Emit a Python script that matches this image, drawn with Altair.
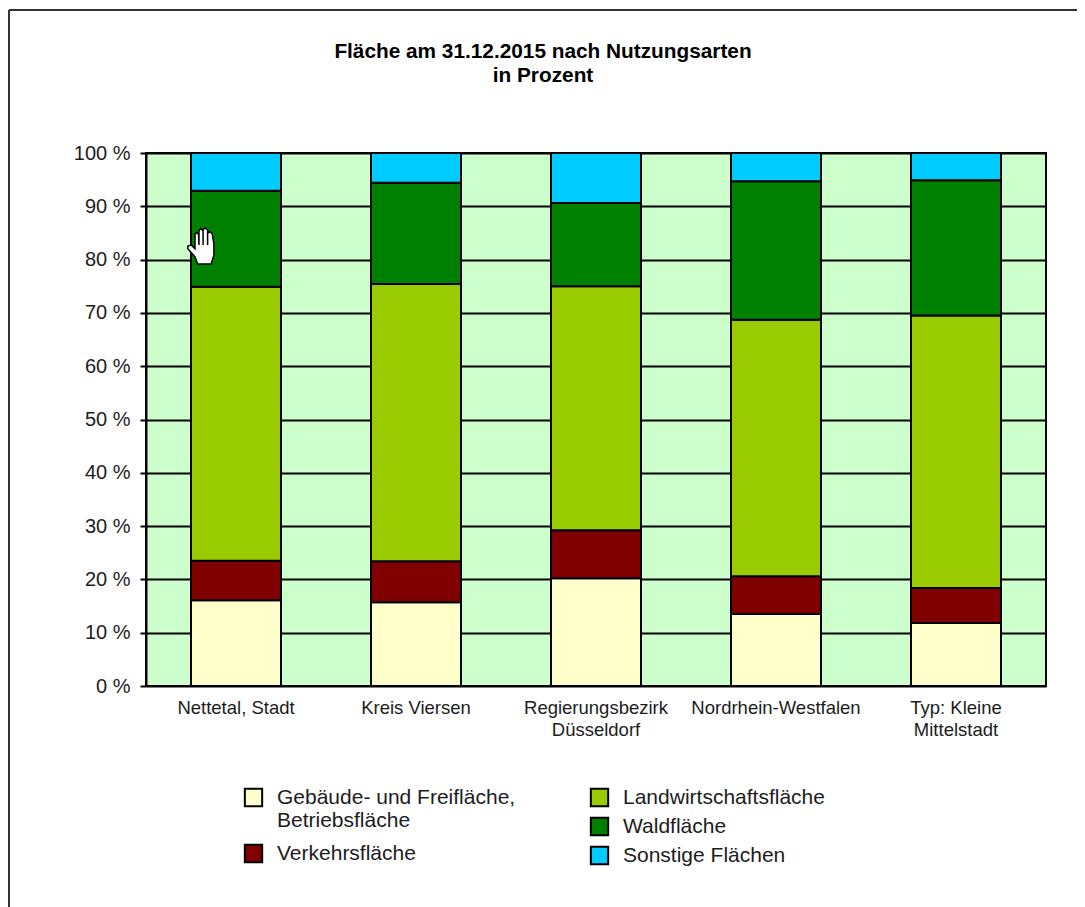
import altair as alt
import numpy as np
import pandas as pd

categories = ["Nettetal, Stadt", "Kreis Viersen", "Regierungsbezirk|Düsseldorf",
              "Nordrhein-Westfalen", "Typ: Kleine|Mittelstadt"]
series = ["Gebäude- und Freifläche,|Betriebsfläche", "Verkehrsfläche",
          "Landwirtschaftsfläche", "Waldfläche", "Sonstige Flächen"]
colors = ["#FFFFCC", "#800000", "#99CC00", "#008000", "#00CCFF"]
gebaeude = [16.1, 15.7, 20.2, 13.5, 11.8]
verkehr = [7.4, 7.7, 9.0, 7.1, 6.6]
landwirtschaft = [51.4, 52.0, 45.8, 48.1, 51.1]
wald = [18.0, 19.0, 15.6, 26.0, 25.4]
sonstige = [7.1, 5.6, 9.4, 5.3, 5.1]

FONT = "Liberation Sans"
TEXT = "#1c1c1c"

shares = np.array([gebaeude, verkehr, landwirtschaft, wald, sonstige])
tops = shares.cumsum(axis=0)
rows = []
for s, name in enumerate(series):
    for c, cat in enumerate(categories):
        rows.append({"Gebiet": cat, "Art": name, "y0": tops[s, c] - shares[s, c], "y1": tops[s, c]})
df = pd.DataFrame(rows)

x = alt.X("Gebiet:N", sort=categories, title=None,
          scale=alt.Scale(paddingInner=0.5, paddingOuter=0.25),
          axis=alt.Axis(labelExpr="split(datum.label, '|')", labelAngle=0, ticks=False, domain=False,
                        labelFont=FONT, labelFontSize=18.5, labelColor=TEXT, labelPadding=12,
                        labelLineHeight=22.5, labelBaseline="top", labelLimit=400, grid=False))
y = alt.Y("y0:Q", title=None, scale=alt.Scale(domain=[0, 100], nice=False),
          axis=alt.Axis(values=list(range(0, 101, 10)), labelExpr="datum.value + ' %'",
                        grid=True, gridColor="#000000", gridWidth=2, gridOpacity=1,
                        tickColor="#000000", tickWidth=2, tickSize=6, domainColor="#000000", domainWidth=2,
                        labelFont=FONT, labelFontSize=20, labelColor=TEXT, labelPadding=10))


def bars(first, last, lx, ly, row_pad):
    names = series[first:last]
    return alt.Chart(df[df["Art"].isin(names)]).mark_bar(stroke="#000000", strokeWidth=2).encode(
        x=x, y=y, y2="y1:Q",
        color=alt.Color("Art:N", sort=names,
                        scale=alt.Scale(domain=names, range=colors[first:last]),
                        legend=alt.Legend(title=None, orient="none", legendX=lx, legendY=ly,
                                          labelExpr="split(datum.label, '|')", labelLimit=400,
                                          symbolType="square", symbolSize=300,
                                          symbolStrokeColor="#000000", symbolStrokeWidth=2,
                                          labelFont=FONT, labelFontSize=21, labelColor=TEXT,
                                          labelOffset=13, rowPadding=row_pad)),
    )


left = bars(0, 2, 97, 634, 9)
right = bars(2, 5, 443, 634, 2)

HAND = ("M-0.35 1 L-0.5 0.6 L-0.9 0.15 L-0.9 0 L-0.7 -0.05 L-0.5 0.15 L-0.5 -0.65 L-0.42 -0.75 "
        "L-0.3 -0.65 L-0.28 -0.05 L-0.28 -0.85 L-0.18 -0.98 L-0.05 -0.85 L-0.05 -0.05 L-0.05 -0.9 "
        "L0.05 -1 L0.2 -0.9 L0.2 -0.05 L0.2 -0.7 L0.3 -0.8 L0.45 -0.7 L0.55 -0.1 L0.55 0.5 L0.4 1 Z")
hand = alt.Chart(pd.DataFrame({"a": [0]})).mark_point(
    shape=HAND, filled=True, fill="#ffffff", stroke="#000000", strokeWidth=1.5, opacity=1, size=1296
).encode(x=alt.value(58), y=alt.value(93))

frame_top = alt.Chart(pd.DataFrame({"a": [0]})).mark_rule(color="#333333", strokeWidth=2).encode(
    x=alt.value(-137), x2=alt.value(939), y=alt.value(-143))
frame_left = alt.Chart(pd.DataFrame({"a": [0]})).mark_rule(color="#333333", strokeWidth=2).encode(
    x=alt.value(-137), y=alt.value(-143), y2=alt.value(754))

chart = alt.layer(frame_top, frame_left, left, right, hand).resolve_scale(color="independent").properties(
    width=900, height=533,
    autosize=alt.AutoSizeParams(type="none"),
    padding={"left": 138, "top": 145, "right": 31, "bottom": 221},
    title=alt.TitleParams(text=["Fläche am 31.12.2015 nach Nutzungsarten", "in Prozent"],
                          font=FONT, fontSize=20.8, fontWeight="bold", color="#000000",
                          lineHeight=24, anchor="middle", dx=-53, offset=-78),
).configure_view(fill="#CCFFCC", stroke="#000000", strokeWidth=2)

chart.save("out.html", embed_options={"renderer": "svg", "actions": False})
